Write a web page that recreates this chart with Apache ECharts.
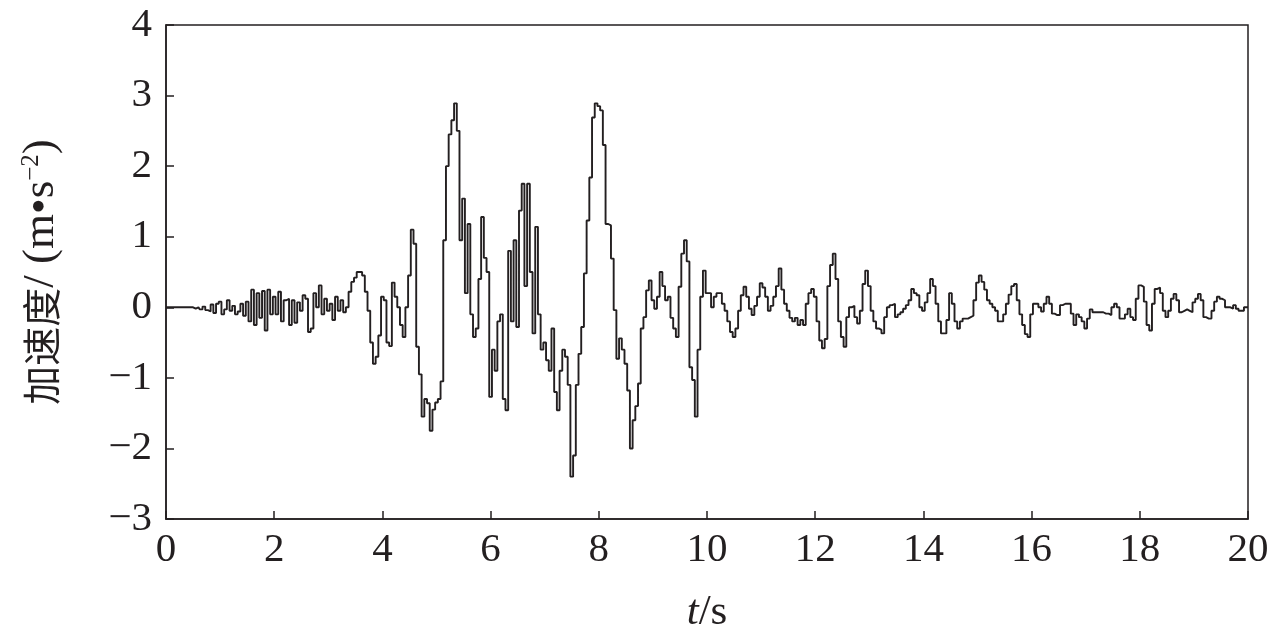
<!DOCTYPE html>
<html><head><meta charset="utf-8">
<script src="https://cdn.jsdelivr.net/npm/echarts@6/dist/echarts.min.js"></script>
<style>html,body{margin:0;padding:0;background:#fff}#c{width:1280px;height:642px}</style>
</head><body><div id="c"></div>
<script>
// sampling step of the digitised record (s)
const sampleStep = 0.05;
// acceleration (m/s^2), t = 0 .. 4.95 s
const accel_0_5 = [
  0,0,0,0,0,0,0,0,0,0, 0,-0.02,0,-0.03,0.01,-0.04,-0.06,0.04,-0.08,0.05,
  0.08,-0.1,-0.03,0.1,-0.05,0.02,-0.1,-0.06,0.05,-0.12, 0.08,-0.2,0.25,-0.25,0.2,-0.15,0.23,-0.33,0.25,-0.1,
  0.15,-0.1,0.22,-0.2,0.1,0.12,-0.25,0.1,-0.22,0.07, -0.05,0.17,0.12,-0.35,-0.3,0.2,0.0,0.31,-0.1,0.12,
  -0.05,0.05,-0.18,0.15,-0.05,0.1,-0.07,0.0,0.22,0.36, 0.42,0.5,0.5,0.45,0.22,-0.05,-0.5,-0.8,-0.7,-0.4,
  0.15,0.1,-0.5,-0.55,0.35,0.15,0.0,-0.25,-0.42,0.0, 0.45,1.1,0.9,-0.56,-0.95,-1.55,-1.3,-1.36,-1.75,-1.45
];
// t = 5 .. 9.95 s
const accel_5_10 = [
  -1.35,-1.3,-1.05,0.95,2.0,2.45,2.65,2.89,2.5,0.95, 1.54,0.2,1.18,-0.1,-0.42,-0.3,0.4,1.28,0.7,0.5,
  -1.27,-0.6,-0.9,-0.2,-0.1,-1.3,-1.46,0.8,-0.2,0.95, -0.28,1.37,1.75,0.3,1.75,0.5,-0.37,1.14,-0.1,-0.6,
  -0.5,-0.75,-0.9,-0.3,-1.2,-1.46,-0.9,-0.6,-0.7,-1.1, -2.4,-2.1,-1.1,-0.66,-0.28,0.48,1.23,1.84,2.69,2.89,
  2.85,2.79,2.3,1.18,1.16,0.69,-0.04,-0.73,-0.44,-0.6, -0.8,-1.18,-2.0,-1.6,-1.4,-1.08,-0.3,-0.14,0.24,0.38,
  0.1,-0.02,0.15,0.5,0.3,0.1,0.15,-0.15,-0.3,-0.42, 0.29,0.76,0.95,0.65,-0.85,-1.03,-1.55,-0.6,0.15,0.52
];
// t = 10 .. 14.95 s
const accel_10_15 = [
  0.2,0.2,0.0,0.15,0.2,0.2,0.05,-0.05,-0.2,-0.35, -0.42,-0.3,-0.05,0.17,0.29,0.15,-0.02,-0.11,0.02,0.15,
  0.34,0.28,0.15,-0.05,0.02,0.15,0.3,0.55,0.25,0.05, -0.05,-0.15,-0.2,-0.15,-0.25,-0.18,-0.25,0.05,0.2,0.26,
  0.15,-0.2,-0.47,-0.58,-0.45,0.3,0.6,0.76,0.4,-0.2, -0.42,-0.56,-0.14,0.0,0.02,-0.14,-0.23,-0.05,0.33,0.52,
  0.3,-0.05,-0.2,-0.3,-0.32,-0.37,-0.14,0.0,0.03,0.05, -0.14,-0.1,-0.07,-0.02,0.03,0.1,0.26,0.2,0.17,0.0,
  -0.05,0.07,0.2,0.4,0.3,0.05,-0.2,-0.37,-0.37,-0.18, 0.2,0.05,-0.2,-0.3,-0.2,-0.16,-0.16,-0.14,-0.12,0.1
];
// t = 15 .. 20 s
const accel_15_20 = [
  0.35,0.45,0.36,0.25,0.1,0.05,0.0,-0.05,-0.2,-0.2, -0.1,0.05,0.18,0.3,0.33,0.1,-0.1,-0.25,-0.38,-0.42,
  -0.1,0.05,0.05,0.0,-0.06,0.05,0.15,0.05,-0.09,-0.11, -0.11,0.03,0.05,0.05,0.05,-0.09,-0.25,-0.1,-0.14,-0.2,
  -0.3,-0.16,-0.03,-0.07,-0.07,-0.07,-0.07,-0.09,-0.09,-0.11, 0.0,0.05,0.0,-0.16,-0.16,-0.1,-0.02,-0.14,-0.18,0.12,
  0.31,0.29,0.08,-0.25,-0.33,0.05,0.26,0.28,0.2,-0.05, -0.14,-0.05,0.12,0.19,0.1,-0.07,-0.05,-0.03,-0.05,-0.07,
  0.07,0.12,0.19,0.1,-0.14,-0.16,-0.16,-0.05,0.08,0.15, 0.12,0.1,0.0,0.0,-0.02,0.03,-0.02,-0.05,-0.05,0.0,
  0.0
];
const xTicks = [0,2,4,6,8,10,12,14,16,18,20];
const yTicks = [-3,-2,-1,0,1,2,3,4];

const accel = [].concat(accel_0_5, accel_5_10, accel_10_15, accel_15_20);
const points = accel.map((v, i) => [Math.round(i * sampleStep * 100) / 100, v]);

const ink = '#231f20';
const serif = "'Liberation Serif','Times New Roman',serif";
const cjk = "'Noto Sans CJK SC',sans-serif";

const chart = echarts.init(document.getElementById('c'), null, {renderer: 'canvas'});
chart.setOption({
  animation: false,
  backgroundColor: '#fff',
  grid: {left: 166, right: 32, top: 25, bottom: 123, show: true, borderColor: ink, borderWidth: 1.5, backgroundColor: 'transparent'},
  xAxis: {
    type: 'value', min: xTicks[0], max: xTicks[xTicks.length - 1], interval: 2,
    axisLine: {onZero: false, lineStyle: {color: ink, width: 1.5}},
    axisTick: {inside: true, length: 8, lineStyle: {color: ink, width: 1.5}},
    axisLabel: {fontFamily: serif, fontSize: 41, color: ink, margin: 11},
    splitLine: {show: false},
    name: '{i|t}{n|/s}', nameLocation: 'middle', nameGap: 72,
    nameTextStyle: {rich: {
      i: {fontFamily: serif, fontStyle: 'italic', fontSize: 43, color: ink},
      n: {fontFamily: serif, fontSize: 43, color: ink}
    }}
  },
  yAxis: {
    type: 'value', min: yTicks[0], max: yTicks[yTicks.length - 1], interval: 1,
    axisLine: {onZero: false, lineStyle: {color: ink, width: 1.5}},
    axisTick: {inside: true, length: 8, lineStyle: {color: ink, width: 1.5}},
    axisLabel: {fontFamily: serif, fontSize: 41, color: ink, margin: 14,
      formatter: v => v < 0 ? '\u2212' + Math.abs(v) : String(v)},
    splitLine: {show: false},
    name: '{c|加速度}{n|/ (m\u2022s}{s|\u22122}{n|)}', nameLocation: 'middle', nameRotate: 90, nameGap: 102,
    nameTextStyle: {rich: {
      c: {fontFamily: cjk, fontSize: 39, color: ink},
      n: {fontFamily: serif, fontSize: 45, color: ink},
      s: {fontFamily: serif, fontSize: 25, color: ink, verticalAlign: 'top', padding: [0, 0, 18, 0]}
    }}
  },
  series: [{
    type: 'line', data: points, step: 'middle', showSymbol: false,
    lineStyle: {color: ink, width: 1.9}
  }]
});
</script>
</body></html>
